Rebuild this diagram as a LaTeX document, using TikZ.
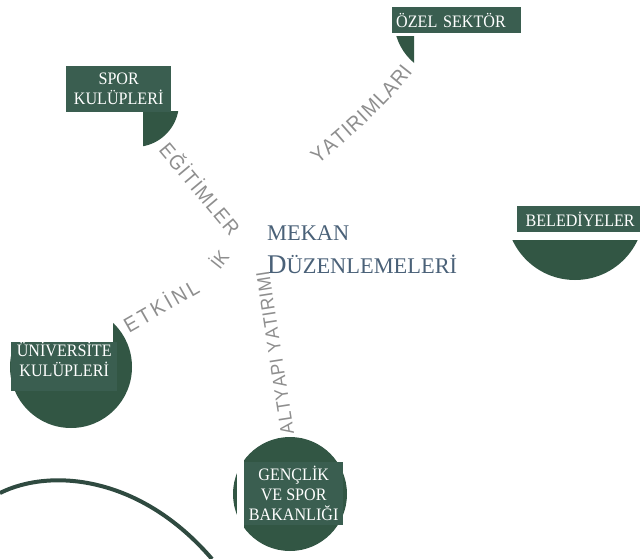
\documentclass[tikz,border=0pt]{standalone}
\usepackage{fontspec}
\setmainfont{Liberation Serif}
\newfontfamily\boxfont[FakeStretch=0.92]{Liberation Serif}
\newfontfamily\labelsans[FakeStretch=0.92]{Liberation Sans}
\usetikzlibrary{decorations.text}
\definecolor{boxgreen}{HTML}{3A5E50}
\definecolor{circgreen}{HTML}{325644}
\definecolor{slate}{HTML}{4A6178}
\definecolor{lbl}{HTML}{8E8E8E}
\definecolor{arcgreen}{HTML}{2F4A40}
\tikzset{
  box/.style={fill=boxgreen, text=white, font=\boxfont\fontsize{17.5}{20}\selectfont, inner ysep=0pt, align=center, anchor=north west},
  blob/.style={fill=circgreen},
  mask/.style={fill=white},
  pathlabel/.style n args={2}{decorate, decoration={text along path, text={|\labelsans\fontsize{#1}{#1}\selectfont|#2}, text align={fit to path}, text color=lbl}},
  pathlabelc/.style n args={2}{decorate, decoration={text along path, text={|\labelsans\fontsize{#1}{#1}\selectfont|#2}, text align=center, text color=lbl}},
  arcline/.style={draw=arcgreen, line width=4pt},
  titletext/.style={anchor=base west, inner sep=0pt, text=slate, font=\fontsize{22.4}{24}\selectfont}
}
\begin{document}
\begin{tikzpicture}[x=1pt,y=-1pt]
\useasboundingbox (0,0) rectangle (640,559);
\clip (0,0) rectangle (640,559);

% circles (partly hidden)
\begin{scope}
  \clip (380,37) rectangle (414,80);
  \fill[blob] (450,20) circle[radius=56pt];
\end{scope}
\begin{scope}
  \clip (143,112) rectangle (200,170);
  \fill[blob] (135,103) circle[radius=44pt];
\end{scope}
\begin{scope}
  \clip (480,240) rectangle (640,300);
  \fill[blob] (575,211) circle[radius=69pt];
\end{scope}
\fill[blob] (71,367) circle[radius=61pt];
\fill[mask] (0,290) rectangle (113,342);
\fill[blob] (290,494) circle[radius=57pt];
\fill[mask] (237,456) rectangle (244,535);

% boxes
\node[box, minimum width=129pt, minimum height=26pt, text width=121pt, inner xsep=4pt, align=left] (ozel) at (392,7) {ÖZEL SEKTÖR};
\node[box, minimum width=105pt, minimum height=46pt, inner xsep=0pt] (spor) at (66,66) {SPOR\\KULÜPLERİ};
\node[box, minimum width=123pt, minimum height=26pt, text width=112pt, inner xsep=5.5pt, align=right] (beled) at (517,206) {BELEDİYELER};
\node[box, minimum width=106pt, minimum height=48pt, inner xsep=0pt] (univ) at (11,342) {ÜNİVERSİTE\\KULÜPLERİ\\[-6pt]\mbox{}};
\node[box, minimum width=99pt, minimum height=63pt, inner xsep=0pt] (genc) at (244,462) {GENÇLİK\\VE SPOR\\BAKANLIĞI};

% centre title
\node[titletext] (mekan) at (267,240) {MEKAN};
\node[titletext] (duzen) at (267,273) {{\fontsize{27}{28}\selectfont D}ÜZENLEMELERİ};

% labels along paths
\path[pathlabel={21}{YATIRIMLARI}] (318,164) .. controls (350,138) and (385,108) .. (413,72);
\path[pathlabel={20.5}{EĞİTİMLER}] (158,151) -- (230,237);
\path[pathlabel={19}{ALTYAPI YATIRIMI}] (294,433) -- (269,271);
\path[pathlabel={21}{ETKİNL}] (129,333) -- (201,292);
\path[pathlabelc={19}{İK}] (214,278) -- (236,250);

% bottom arc
\draw[arcline] (0,493) .. controls (50,468) and (140,475) .. (212,559);
\end{tikzpicture}
\end{document}
